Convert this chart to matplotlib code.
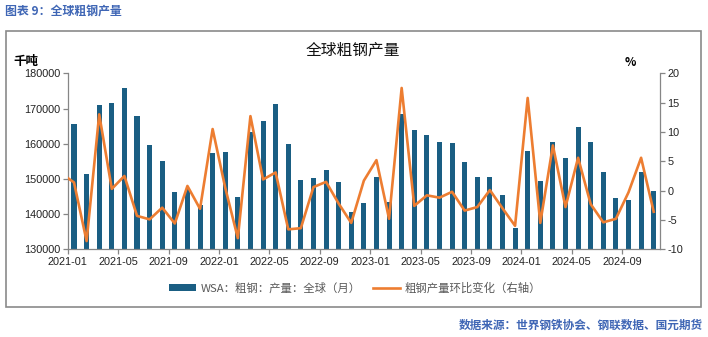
import matplotlib
matplotlib.use("Agg")
import matplotlib.pyplot as plt
from matplotlib.patches import Rectangle, Patch
from matplotlib.lines import Line2D
import numpy as np

plt.rcParams['font.family'] = ['Noto Sans CJK SC', 'DejaVu Sans']

# ---------------- data ----------------
months = [f"{y}-{m:02d}" for y in (2021, 2022, 2023, 2024) for m in range(1, 13)][:47]

production = [  # 千吨
    165600, 151400, 171000, 171600, 175800, 167900, 159600, 155100, 146300, 147000, 142600, 157400,
    157600, 144900, 163300, 166500, 171400, 159900, 149700, 150300, 152500, 149100, 140600, 143200,
    150500, 143400, 168400, 163900, 162500, 160500, 160200, 154800, 150500, 150500, 145400, 136000,
    157900, 149400, 160500, 155900, 164700, 160500, 152000, 144600, 144000, 152000, 146600,
]

# month-on-month change (%), first value is 2020-12 (partly visible at the left edge)
mom_months = ["2020-12"] + months
mom = [
    2.9,
    1.4, -8.6, 13.0, 0.3, 2.5, -4.3, -4.9, -2.9, -5.6, 0.8, -3.1, 10.5,
    0.5, -8.1, 12.7, 1.9, 3.1, -6.6, -6.4, 0.6, 1.5, -2.2, -5.5, 1.7,
    5.2, -4.8, 17.5, -2.6, -0.8, -1.2, -0.2, -3.4, -2.8, 0.1, -3.0, -6.0,
    15.8, -5.5, 7.7, -2.8, 5.6, -2.3, -5.4, -4.8, -0.3, 5.6, -3.6,
]

tick_labels = ["2021-01", "2021-05", "2021-09", "2022-01", "2022-05", "2022-09",
               "2023-01", "2023-05", "2023-09", "2024-01", "2024-05", "2024-09"]

left_ticks = [130000, 140000, 150000, 160000, 170000, 180000]
right_ticks = [-10, -5, 0, 5, 10, 15, 20]

bar_label = "WSA：粗钢：产量：全球（月）"
line_label = "粗钢产量环比变化（右轴）"
chart_title = "全球粗钢产量"
fig_title = "图表 9：全球粗钢产量"
source = "数据来源：世界钢铁协会、钢联数据、国元期货"

# ---------------- styling ----------------
W, H = 708, 337
bar_color = "#1A5E83"
line_color = "#ED7D31"
axis_gray = "#868686"
blue_txt = "#3F66B5"
num_font = ['Liberation Sans', 'DejaVu Sans']

fig = plt.figure(figsize=(W / 100, H / 100), dpi=100)

def fx(px):
    return px / W

def fy(py):
    return 1 - py / H

# chart outer box
fig.patches.append(Rectangle((fx(6), fy(306.5)), fx(701) - fx(6), fy(31) - fy(306.5),
                             transform=fig.transFigure, fill=False,
                             edgecolor="#8A8A8A", linewidth=1.2))

ax = fig.add_axes([fx(67.7), fy(249.3), fx(660) - fx(67.7), fy(73.3) - fy(249.3)])
ax2 = ax.twinx()

x = np.arange(len(months))
ax.bar(x, production, width=0.4, color=bar_color, zorder=2)
ax.set_ylim(130000, 180000)
ax.set_xlim(-0.5, len(months) - 0.5)
ax.set_yticks(left_ticks)
ax.set_yticklabels([str(v) for v in left_ticks], family=num_font, fontsize=7.8, color="#222222")

label_idx = [months.index(t) for t in tick_labels]
ax.set_xticks([i - 0.5 for i in label_idx])
ax.set_xticklabels(tick_labels, family=num_font, fontsize=7.8, color="#222222")

xm = np.array([months.index(m) if m in months else -1 for m in mom_months])
ax2.plot(xm, mom, color=line_color, linewidth=1.9, zorder=3, clip_on=True)
ax2.set_ylim(-10, 20)
ax2.set_yticks(right_ticks)
ax2.set_yticklabels([str(v) for v in right_ticks], family=num_font, fontsize=7.8, color="#222222")
ax2.set_xlim(-0.5, len(months) - 0.5)

for a in (ax, ax2):
    a.spines['top'].set_visible(False)
    for s in ('left', 'right', 'bottom'):
        a.spines[s].set_color(axis_gray)
        a.spines[s].set_linewidth(0.9)
    a.tick_params(axis='both', color=axis_gray, length=3.5, width=0.9, pad=2)
ax.spines['right'].set_visible(False)
ax2.spines['left'].set_visible(False)
ax2.spines['bottom'].set_visible(False)
ax.patch.set_visible(False)

# texts
fig.text(fx(353), fy(50.5), chart_title, ha='center', va='center', fontsize=11.3, color="#111111")
fig.text(fx(26), fy(62), "千吨", ha='center', va='center', fontsize=9, fontweight='bold', color="#000000")
fig.text(fx(630), fy(62), "%", ha='center', va='center', fontsize=8.5, fontweight='bold', color="#000000")
fig.text(fx(5), fy(11), fig_title, ha='left', va='center', fontsize=8.6, fontweight='bold', color=blue_txt)
fig.text(fx(703), fy(325), source, ha='right', va='center', fontsize=8.4, fontweight='bold', color=blue_txt)

handles = [Patch(facecolor=bar_color, edgecolor='none'),
           Line2D([0], [0], color=line_color, linewidth=1.9)]
fig.legend(handles, [bar_label, line_label], loc='center', ncol=2,
           bbox_to_anchor=(fx(355), fy(288)), frameon=False, fontsize=8.2,
           labelcolor="#595959", handlelength=2.4, handleheight=0.6,
           handletextpad=0.4, columnspacing=1.0)

fig.savefig("out.png", dpi=100)
